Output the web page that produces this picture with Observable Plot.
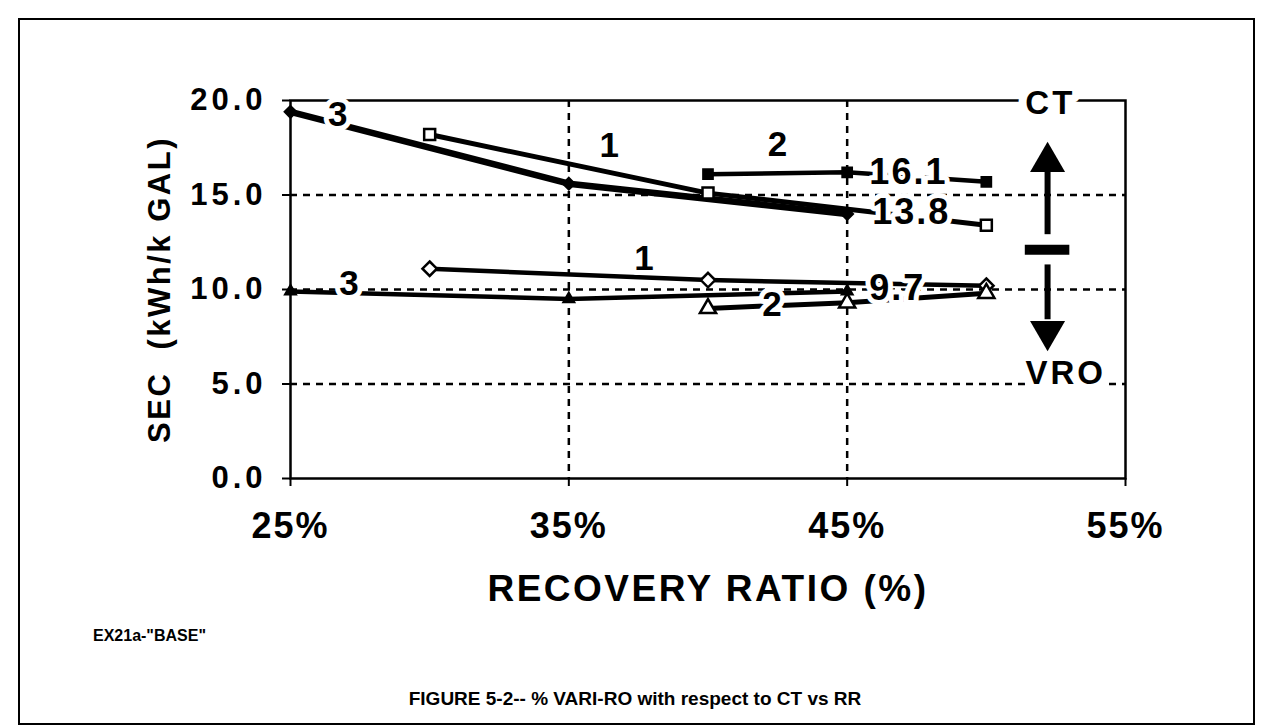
<!DOCTYPE html>
<html>
<head>
<meta charset="utf-8">
<script src="https://cdn.jsdelivr.net/npm/d3@7"></script>
<script src="https://cdn.jsdelivr.net/npm/@observablehq/plot@0.6"></script>
<style>
  body { margin: 0; background: #fff; }
  #wrap { position: relative; width: 1270px; height: 728px; overflow: hidden; font-family: "Liberation Sans", Arial, sans-serif; color: #000; }
  #border { position: absolute; left: 18px; top: 18px; width: 1233px; height: 703px; border: 2px solid #000; }
  #chart { position: absolute; left: 0; top: 0; }
  #note { position: absolute; left: 93px; top: 627px; font-weight: bold; font-size: 16px; }
  #caption { position: absolute; left: 0; width: 1270px; text-align: center; top: 688px; font-weight: bold; font-size: 19px; }
  [aria-label="y-axis tick label"] { letter-spacing: 4px; }
  [aria-label="x-axis tick label"] { letter-spacing: 2px; }
  [aria-description="axis-title"] { letter-spacing: 2.5px; }
  [aria-description="y-title"] { letter-spacing: 2.5px; }
  [aria-description="value-label"] { letter-spacing: 2px; }
  [aria-description="side-label"] { letter-spacing: 3px; }
</style>
</head>
<body>
<div id="wrap">
  <div id="border"></div>
  <div id="chart"></div>
  <div id="note">EX21a-"BASE"</div>
  <div id="caption">FIGURE 5-2-- % VARI-RO with respect to CT vs RR</div>
</div>
<script>
// ---- data ----
const xTicks = [25, 35, 45, 55];            // recovery ratio (%)
const yTicks = [0, 5, 10, 15, 20];          // SEC (kWh/k GAL)
const gridXValues = [35, 45];
const gridYValues = [5, 10, 15];

const seriesNames = ["CT-1", "CT-2", "CT-3", "VRO-1", "VRO-2", "VRO-3"];
const seriesRR = [
  [30, 40, 50],
  [40, 45, 50],
  [25, 35, 45],
  [30, 40, 50],
  [40, 45, 50],
  [25, 35, 45]
];
const seriesSEC = [
  [18.2, 15.1, 13.4],
  [16.1, 16.2, 15.7],
  [19.4, 15.6, 14.0],
  [11.1, 10.5, 10.2],
  [9.0, 9.3, 9.8],
  [9.9, 9.5, 9.9]
];

// inline line-number labels
const lineLabelText = ["3", "1", "2", "1", "3", "2"];
const lineLabelRR   = [26.7, 36.45, 42.5, 37.7, 27.1, 42.3];
const lineLabelSEC  = [19.25, 17.6, 17.65, 11.6, 10.3, 9.2];

// value labels
const valueLabelText = ["16.1", "13.8", "9.7"];
const valueLabelRR   = [47.2, 47.3, 46.8];
const valueLabelSEC  = [16.2, 14.05, 10.05];

// CT / VRO direction annotation
const sideText = ["CT", "VRO"];
const sideRR   = [52.3, 52.85];
const sideSEC  = [19.85, 5.55];
const arrowRR = 52.2;
const shaftFrom = [12.9, 11.3];
const shaftTo   = [16.2, 8.4];
const headSEC   = [16.75, 7.8];
const headRotate = [0, 180];
const barSEC = 12.1, barFrom = 51.4, barTo = 53.0;

// ---- build tables ----
const table = seriesNames.flatMap((s, i) =>
  seriesRR[i].map((rr, j) => ({series: s, rr, sec: seriesSEC[i][j]})));
const lineLabels = lineLabelText.map((t, i) => ({t, rr: lineLabelRR[i], sec: lineLabelSEC[i]}));
const valueLabels = valueLabelText.map((t, i) => ({t, rr: valueLabelRR[i], sec: valueLabelSEC[i]}));
const sides = sideText.map((t, i) => ({t, rr: sideRR[i], sec: sideSEC[i]}));
const shafts = shaftFrom.map((a, i) => ({rr: arrowRR, a, b: shaftTo[i]}));
const heads = headSEC.map((s, i) => ({rr: arrowRR, sec: s, rot: headRotate[i]}));

// ---- styles ----
const style = {
  "CT-1":  {w: 5,   symbol: "square",   fill: "white", r: 6.2},
  "CT-2":  {w: 4.5, symbol: "square",   fill: "black", r: 5.2},
  "CT-3":  {w: 6.5, symbol: "diamond2", fill: "black", r: 5},
  "VRO-1": {w: 4.5, symbol: "diamond2", fill: "white", r: 6.5},
  "VRO-2": {w: 5,   symbol: "triangle", fill: "white", r: 6},
  "VRO-3": {w: 4.5, symbol: "triangle", fill: "black", r: 3.8}
};

const lineMarks = seriesNames.map(s => Plot.line(table, {
  filter: d => d.series === s, x: "rr", y: "sec",
  stroke: "black", strokeWidth: style[s].w, strokeLinecap: "butt"
}));
const dotMarks = seriesNames.map(s => Plot.dot(table, {
  filter: d => d.series === s, x: "rr", y: "sec",
  symbol: style[s].symbol, r: style[s].r, fill: style[s].fill,
  stroke: "black", strokeWidth: 2.5
}));

const dash = {stroke: "black", strokeOpacity: 1, strokeWidth: 2.5, strokeDasharray: "7,6"};
const halo = {fill: "black", stroke: "white", strokeWidth: 10, paintOrder: "stroke", strokeLinejoin: "round"};

const chart = Plot.plot({
  width: 1270,
  height: 640,
  marginLeft: 290,
  marginRight: 145,
  marginTop: 100,
  marginBottom: 162,
  x: {domain: [25, 55]},
  y: {domain: [0, 20]},
  style: {fontFamily: "'Liberation Sans', Arial, sans-serif", fontWeight: "bold", color: "black", background: "transparent", overflow: "visible"},
  marks: [
    Plot.gridY(gridYValues, dash),
    Plot.gridX(gridXValues, dash),
    Plot.frame({stroke: "black", strokeWidth: 2.5}),
    Plot.axisY(yTicks, {tickFormat: d => d.toFixed(1), tickSize: 8, tickPadding: 16, fontSize: 31, label: null, strokeWidth: 2}),
    Plot.axisX(xTicks, {tickFormat: d => d + "%", tickSize: 8, tickPadding: 26, fontSize: 36, label: null, strokeWidth: 2}),
    Plot.text(["RECOVERY RATIO (%)"], {frameAnchor: "bottom", dy: 122, fontSize: 37, ariaDescription: "axis-title"}),
    Plot.text(["SEC  (kWh/k GAL)"], {frameAnchor: "left", dx: -130, rotate: -90, textAnchor: "middle", fontSize: 31, ariaDescription: "y-title"}),
    ...lineMarks,
    ...dotMarks,
    Plot.text(lineLabels, {x: "rr", y: "sec", text: "t", fontSize: 35, ...halo, ariaDescription: "line-label"}),
    Plot.text(valueLabels, {x: "rr", y: "sec", text: "t", fontSize: 36, ...halo, ariaDescription: "value-label"}),
    Plot.ruleX(shafts, {x: "rr", y1: "a", y2: "b", stroke: "black", strokeWidth: 6}),
    Plot.dot(heads, {x: "rr", y: "sec", symbol: "triangle", r: 13, fill: "black", rotate: "rot"}),
    Plot.ruleY([barSEC], {x1: barFrom, x2: barTo, stroke: "black", strokeWidth: 10}),
    Plot.text(sides, {x: "rr", y: "sec", text: "t", fontSize: 33, ...halo, strokeWidth: 16, ariaDescription: "side-label"})
  ]
});
document.getElementById("chart").appendChild(chart);
</script>
</body>
</html>
